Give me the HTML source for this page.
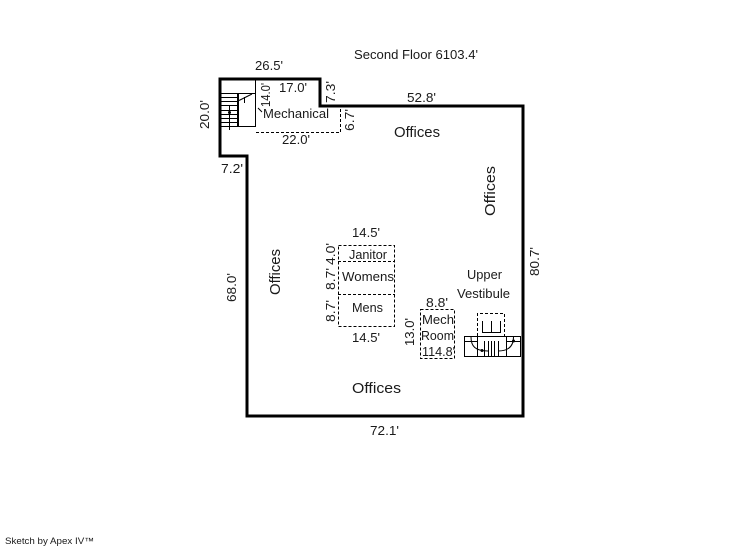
<!DOCTYPE html>
<html><head><meta charset="utf-8"><style>
html,body{margin:0;padding:0;background:#fff;width:746px;height:547px;overflow:hidden}
svg{display:block}
text{font-family:"Liberation Sans",sans-serif;font-size:13px;fill:#1a1a1a}
.b{font-size:15px}
.t{stroke:#000;stroke-width:3;fill:none}
.n{stroke:#000;stroke-width:1;fill:none}
.d{stroke:#000;stroke-width:1;fill:none;stroke-dasharray:3 2}
</style></head><body>
<svg width="746" height="547" viewBox="0 0 746 547" xmlns="http://www.w3.org/2000/svg">
<path class="t" d="M220 79H320V106H523V416H247V156H220Z"/>
<!-- top-left stair -->
<path class="n" d="M220 93.500H256M220 97.500H238M220 101.500H238M220 105.500H238M220 110.500H238M220 114.500H238M220 118.500H238M220 122.500H238M220 126.500H256M255.500 79V127M229.500 106V130"/>
<path d="M238 93V127" stroke="#000" stroke-width="2"/>
<circle cx="229.500" cy="112.500" r="1.500"/>
<path class="n" d="M239 100.500L252 94M244.500 97V103"/>
<path class="n" d="M258 108L262 112"/>
<!-- mechanical -->
<path class="d" d="M256 132.500H341M340.500 132V107"/>
<!-- core -->
<path class="d" d="M338.500 245.500H394.500V326.500H338.500ZM338 261.500H395M338 294.500H395"/>
<!-- mech room -->
<rect class="d" x="420.500" y="309.500" width="34" height="49"/>
<!-- vestibule stair -->
<rect class="n" x="464.500" y="336.500" width="56" height="20"/>
<path class="d" d="M477.500 336V313.500H504.500V336"/>
<path class="n" d="M464 341.500H478M507 341.500H521M482.500 321V332.500H501M491.500 321V332.500M500.500 321V332.500"/>
<path class="n" d="M477.500 337V357M506.500 337V357M484.500 341V357M488.500 341V357M491.500 341V357M494.500 341V357M498.500 341V357"/>
<path class="n" d="M471 337C471 346 475 351 488 351M513.500 337C513.500 346 509 351 498 351"/>
<circle cx="482" cy="350.500" r="1.500"/><circle cx="513.500" cy="341" r="1.500"/>
<!-- labels -->
<text x="354" y="59" textLength="124" lengthAdjust="spacingAndGlyphs">Second Floor 6103.4'</text>
<text x="255" y="70" textLength="28" lengthAdjust="spacingAndGlyphs">26.5'</text>
<text x="279" y="92" textLength="28" lengthAdjust="spacingAndGlyphs">17.0'</text>
<text x="263" y="118" textLength="66" lengthAdjust="spacingAndGlyphs">Mechanical</text>
<text x="282" y="144" textLength="28" lengthAdjust="spacingAndGlyphs">22.0'</text>
<text x="407" y="102" textLength="29" lengthAdjust="spacingAndGlyphs">52.8'</text>
<text x="394" y="137" class="b" textLength="46" lengthAdjust="spacingAndGlyphs">Offices</text>
<text x="221" y="173" textLength="22" lengthAdjust="spacingAndGlyphs">7.2'</text>
<text x="352" y="237" textLength="28" lengthAdjust="spacingAndGlyphs">14.5'</text>
<text x="349" y="259" textLength="38" lengthAdjust="spacingAndGlyphs">Janitor</text>
<text x="342" y="281" textLength="52" lengthAdjust="spacingAndGlyphs">Womens</text>
<text x="352" y="312" textLength="31" lengthAdjust="spacingAndGlyphs">Mens</text>
<text x="352" y="342" textLength="28" lengthAdjust="spacingAndGlyphs">14.5'</text>
<text x="467" y="279" textLength="35" lengthAdjust="spacingAndGlyphs">Upper</text>
<text x="457" y="298" textLength="53" lengthAdjust="spacingAndGlyphs">Vestibule</text>
<text x="426" y="307" textLength="22" lengthAdjust="spacingAndGlyphs">8.8'</text>
<text x="422" y="324" textLength="32" lengthAdjust="spacingAndGlyphs">Mech</text>
<text x="421" y="340" textLength="33" lengthAdjust="spacingAndGlyphs">Room</text>
<text x="422" y="356" textLength="33" lengthAdjust="spacingAndGlyphs">114.8'</text>
<text x="352" y="393" class="b" textLength="49" lengthAdjust="spacingAndGlyphs">Offices</text>
<text x="370" y="435" textLength="29" lengthAdjust="spacingAndGlyphs">72.1'</text>
<text x="5" y="544" style="font-size:9px" textLength="89" lengthAdjust="spacingAndGlyphs">Sketch by Apex IV™</text>
<!-- rotated -->
<text transform="translate(209,129) rotate(-90)" textLength="29" lengthAdjust="spacingAndGlyphs">20.0'</text>
<text transform="translate(270,107) rotate(-90)" textLength="24" lengthAdjust="spacingAndGlyphs">14.0'</text>
<text transform="translate(335,103) rotate(-90)" textLength="22" lengthAdjust="spacingAndGlyphs">7.3'</text>
<text transform="translate(354,131) rotate(-90)" textLength="22" lengthAdjust="spacingAndGlyphs">6.7'</text>
<text transform="translate(495,216) rotate(-90)" class="b" textLength="50" lengthAdjust="spacingAndGlyphs">Offices</text>
<text transform="translate(280,295) rotate(-90)" class="b" textLength="46" lengthAdjust="spacingAndGlyphs">Offices</text>
<text transform="translate(236,302) rotate(-90)" textLength="29" lengthAdjust="spacingAndGlyphs">68.0'</text>
<text transform="translate(539,276) rotate(-90)" textLength="29" lengthAdjust="spacingAndGlyphs">80.7'</text>
<text transform="translate(335,265) rotate(-90)" textLength="22" lengthAdjust="spacingAndGlyphs">4.0'</text>
<text transform="translate(335,290) rotate(-90)" textLength="22" lengthAdjust="spacingAndGlyphs">8.7'</text>
<text transform="translate(335,322) rotate(-90)" textLength="22" lengthAdjust="spacingAndGlyphs">8.7'</text>
<text transform="translate(414,346) rotate(-90)" textLength="28" lengthAdjust="spacingAndGlyphs">13.0'</text>
</svg>
</body></html>
